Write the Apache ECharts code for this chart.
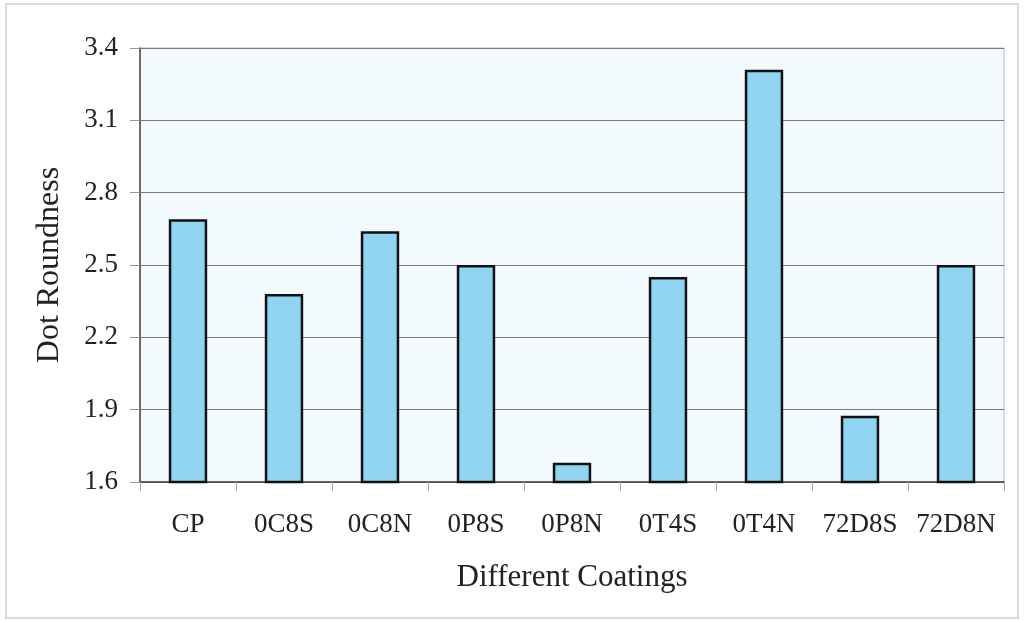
<!DOCTYPE html>
<html>
<head>
<meta charset="utf-8">
<script src="https://cdn.jsdelivr.net/npm/echarts@6/dist/echarts.min.js"></script>
<style>
html,body{margin:0;padding:0;background:#fff;}
#chart{width:1024px;height:623px;}
</style>
</head>
<body>
<div id="chart"></div>
<script>
const categories = ['CP','0C8S','0C8N','0P8S','0P8N','0T4S','0T4N','72D8S','72D8N'];
const roundness = [2.69, 2.38, 2.64, 2.50, 1.68, 2.45, 3.31, 1.875, 2.50];
const yTicks = [1.6, 1.9, 2.2, 2.5, 2.8, 3.1, 3.4];
const xTitle = 'Different Coatings';
const yTitle = 'Dot Roundness';

const serif = '"Liberation Serif", "DejaVu Serif", serif';
const chart = echarts.init(document.getElementById('chart'), null, {renderer:'canvas'});
chart.setOption({
  animation: false,
  backgroundColor: '#ffffff',
  graphic: [{
    type: 'rect',
    shape: {x: 6, y: 4, width: 1012, height: 614},
    style: {fill: 'none', stroke: '#cfcfcf', lineWidth: 1.5},
    silent: true, z: -1
  }],
  grid: {
    left: 140, right: 20, top: 48, bottom: 141,
    show: true, backgroundColor: '#f3fafd', borderColor: '#b8b8b8', borderWidth: 1
  },
  xAxis: {
    type: 'category',
    data: categories,
    name: xTitle,
    nameLocation: 'middle',
    nameGap: 80,
    nameTextStyle: {fontFamily: serif, fontSize: 31, color: '#222'},
    axisLine: {lineStyle: {color: '#444', width: 1.5}},
    axisTick: {show: true, length: 9, lineStyle: {color: '#aaa'}},
    axisLabel: {fontFamily: serif, fontSize: 27, color: '#222', margin: 29, interval: 0}
  },
  yAxis: {
    type: 'value',
    min: 1.6, max: 3.4,
    name: yTitle,
    nameLocation: 'middle',
    nameGap: 74,
    nameRotate: 90,
    nameTextStyle: {fontFamily: serif, fontSize: 32, color: '#222'},
    axisLine: {show: true, lineStyle: {color: '#444', width: 1.5}},
    axisTick: {show: true, length: 10, customValues: yTicks, lineStyle: {color: '#999'}},
    axisLabel: {fontFamily: serif, fontSize: 27, color: '#222', margin: 22, customValues: yTicks,
      formatter: v => Number(v).toFixed(1)},
    splitLine: {show: true, lineStyle: {color: '#7a7a7a', width: 1.2}}
  },
  series: [{
    type: 'bar',
    data: roundness,
    barWidth: '40%',
    itemStyle: {color: '#8fd4f1', borderColor: '#111', borderWidth: 2.5}
  }]
});
</script>
</body>
</html>
